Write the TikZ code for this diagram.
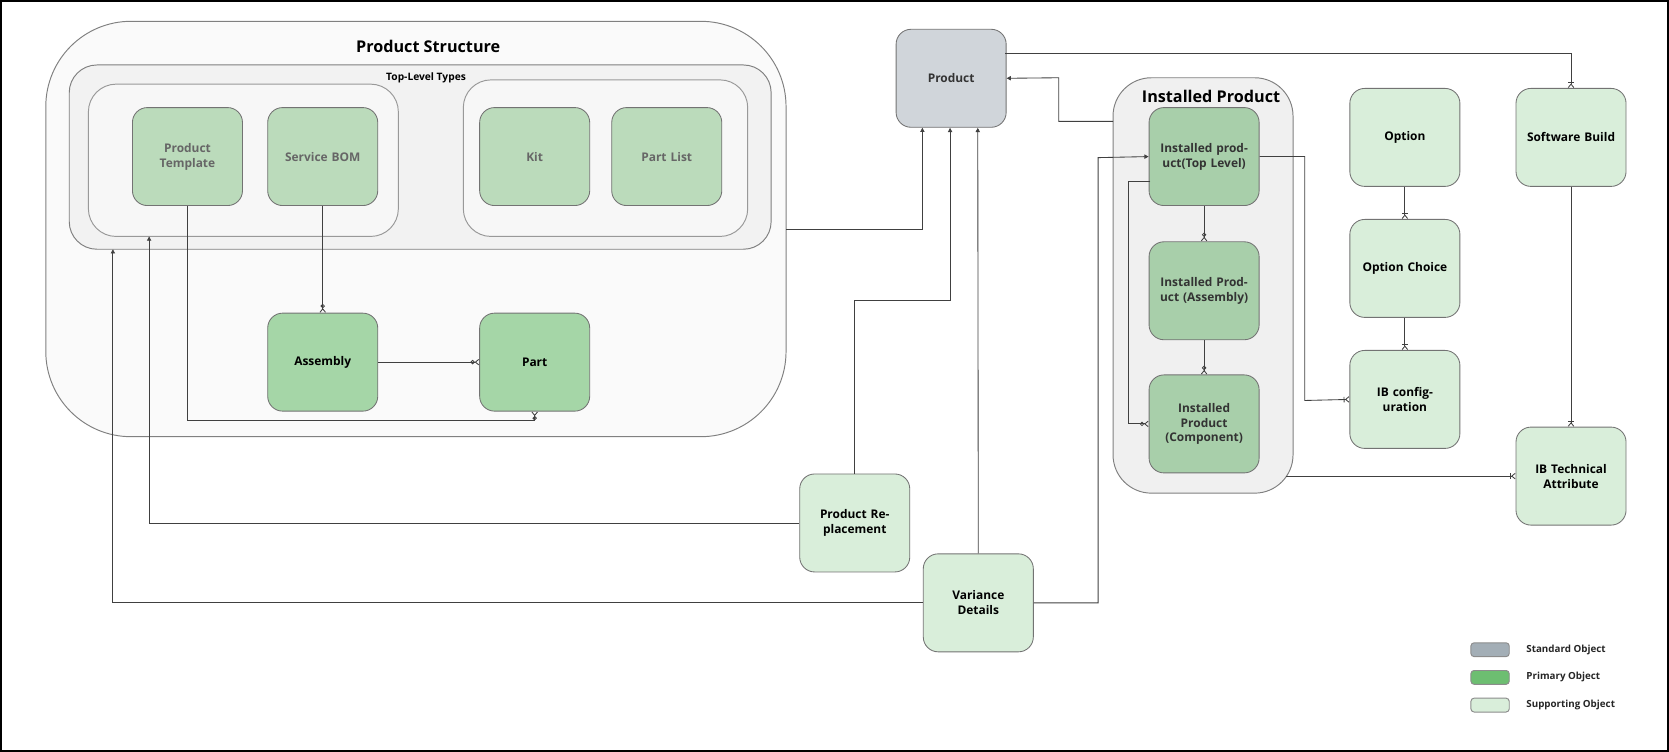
\documentclass[tikz,border=0pt]{standalone}
\usepackage{fontspec}
\setmainfont{Open Sans}
\usetikzlibrary{arrows.meta}
\begin{document}
\begin{tikzpicture}[x=0.5pt,y=-0.5pt,
  line width=0.45pt,
  box/.style={draw=#1!60!black, rounded corners=7pt, line width=0.4pt},
  obj/.style={draw=black!55, rounded corners=7pt, line width=0.4pt, align=center, font=\fontsize{5.6}{7}\selectfont\bfseries, text width=45pt},
  conn/.style={draw=black!75, line width=0.4pt},
  arr/.style={conn, -{Triangle[length=2pt,width=2pt]}},
  zm/.style={conn, -{Circle[open,length=2pt,width=2pt,sep=0pt]Straight Barb[reversed,length=1.6pt,width=2.6pt]}},
  om/.style={conn, -{Bar[width=2.6pt,sep=0.2pt]Straight Barb[reversed,length=1.6pt,width=2.6pt]}},
  ttl/.style={font=\fontsize{7.6}{9}\selectfont\bfseries}]
\definecolor{stdc}{HTML}{D0D5DA}
\definecolor{stdleg}{HTML}{A3AEB6}
\definecolor{pri}{HTML}{A5D6A7}
\definecolor{prileg}{HTML}{6DBE71}
\definecolor{pril}{HTML}{BBDBBB}
\definecolor{ipc}{HTML}{A8CFAA}
\definecolor{sup}{HTML}{D9EEDA}
\useasboundingbox (0,0) rectangle (1567,706);
\draw[line width=1pt] (0.5,0.5) rectangle (1566.5,705.5);
% containers
\draw[draw=black!50, fill=black!2, rounded corners=40pt] (43,20) rectangle (738,410);
\node[ttl] (pst) at (402,44) {Product Structure};
\draw[draw=black!50, fill=black!5, rounded corners=13pt] (65,61) rectangle (724,234);
\node[font=\fontsize{4.8}{6}\selectfont\bfseries] (tlt) at (400,73) {Top-Level Types};
\draw[draw=black!40, fill=black!3, rounded corners=13pt] (83,79) rectangle (374,222);
\draw[draw=black!40, fill=black!3, rounded corners=13pt] (435,75) rectangle (702,222);
\draw[draw=black!50, fill=black!6, rounded corners=18pt] (1045,73) rectangle (1214,463);
\node[ttl] (ipt) at (1137,91) {Installed Product};
\coordinate (psR) at (738,215);
\coordinate (tlB) at (106,234);
\coordinate (ilB) at (140,222);
\coordinate (ipL) at (1045,114);
\coordinate (ipBR) at (1207,447);
% nodes
\tikzset{sz/.style={minimum width=51pt, minimum height=46pt}}
\node[obj,sz,fill=pril,text=black!60] (pt) at (176,147) {Product Template};
\node[obj,sz,fill=pril,text=black!60] (sb) at (303,147) {Service BOM};
\node[obj,sz,fill=pril,text=black!60] (kit) at (502,147) {Kit};
\node[obj,sz,fill=pril,text=black!60] (pl) at (626,147) {Part List};
\node[obj,sz,fill=pri] (asm) at (303,340) {Assembly};
\node[obj,sz,fill=pri] (part) at (502,340) {Part};
\node[obj,sz,fill=stdc,text=black!80] (prod) at (893,73.5) {Product};
\node[obj,sz,fill=ipc,text=black!80] (ipt1) at (1130.5,147) {Installed product(Top Level)};
\node[obj,sz,fill=ipc,text=black!80] (ipa) at (1130.5,273) {Installed Product (Assembly)};
\node[obj,sz,fill=ipc,text=black!80] (ipc) at (1130.5,398) {Installed Product (Component)};
\node[obj,sz,fill=sup] (opt) at (1319,129) {Option};
\node[obj,sz,fill=sup] (oc) at (1319,252) {Option Choice};
\node[obj,sz,fill=sup] (ibc) at (1319,375) {IB configuration};
\node[obj,sz,fill=sup] (swb) at (1475,129) {Software Build};
\node[obj,sz,fill=sup] (ibt) at (1475,447) {IB Technical Attribute};
\node[obj,sz,fill=sup] (pr) at (802.5,491) {Product Replacement};
\node[obj,sz,fill=sup] (vd) at (918.5,566) {Variance Details};
% connectors
\draw[arr] (psR) -| (prod.south west -| 866,0);
\draw[arr] (pr.north) |- (892,282) -- (892,120);
\draw[arr] (vd.north) -- (918,120);
\draw[arr] (ipL) -| (994,73) -- (prod.east);
\draw[om] (944,50) -| (swb.north);
\draw[om] (swb.south) -- (ibt.north);
\draw[om] (opt.south) -- (oc.north);
\draw[om] (oc.south) -- (ibc.north);
\draw[om] (ipt1.east) -| (1225,376) -- (ibc.west);
\draw[om] (ipBR) -- (ibt.west);
\draw[zm] (ipt1.south) -- (ipa.north);
\draw[zm] (ipa.south) -- (ipc.north);
\draw[zm] (1080,170) -| (1059,398) -- (ipc.west);
\draw[arr] (vd.east) -| (1031,148) -- (ipt1.west);
\draw[arr] (vd.west) -| (tlB);
\draw[arr] (pr.west) -| (ilB);
\draw[zm] (pt.south) |- (502,395) -- (part.south);
\draw[zm] (sb.south) -- (asm.north);
\draw[zm] (asm.east) -- (part.west);
% legend
\tikzset{leg/.style={draw=black!45, rounded corners=1.5pt, minimum width=18pt, minimum height=6.5pt, inner sep=0pt},
  legt/.style={anchor=west, font=\fontsize{4.6}{5.5}\selectfont\bfseries, text=black!85}}
\node[leg,fill=stdleg] (l1) at (1399,610) {};
\node[leg,fill=prileg] (l2) at (1399,636) {};
\node[leg,fill=sup] (l3) at (1399,662) {};
\node[legt] (t1) at (1426,610) {Standard Object};
\node[legt] (t2) at (1426,636) {Primary Object};
\node[legt] (t3) at (1426,662) {Supporting Object};
\end{tikzpicture}
\end{document}
